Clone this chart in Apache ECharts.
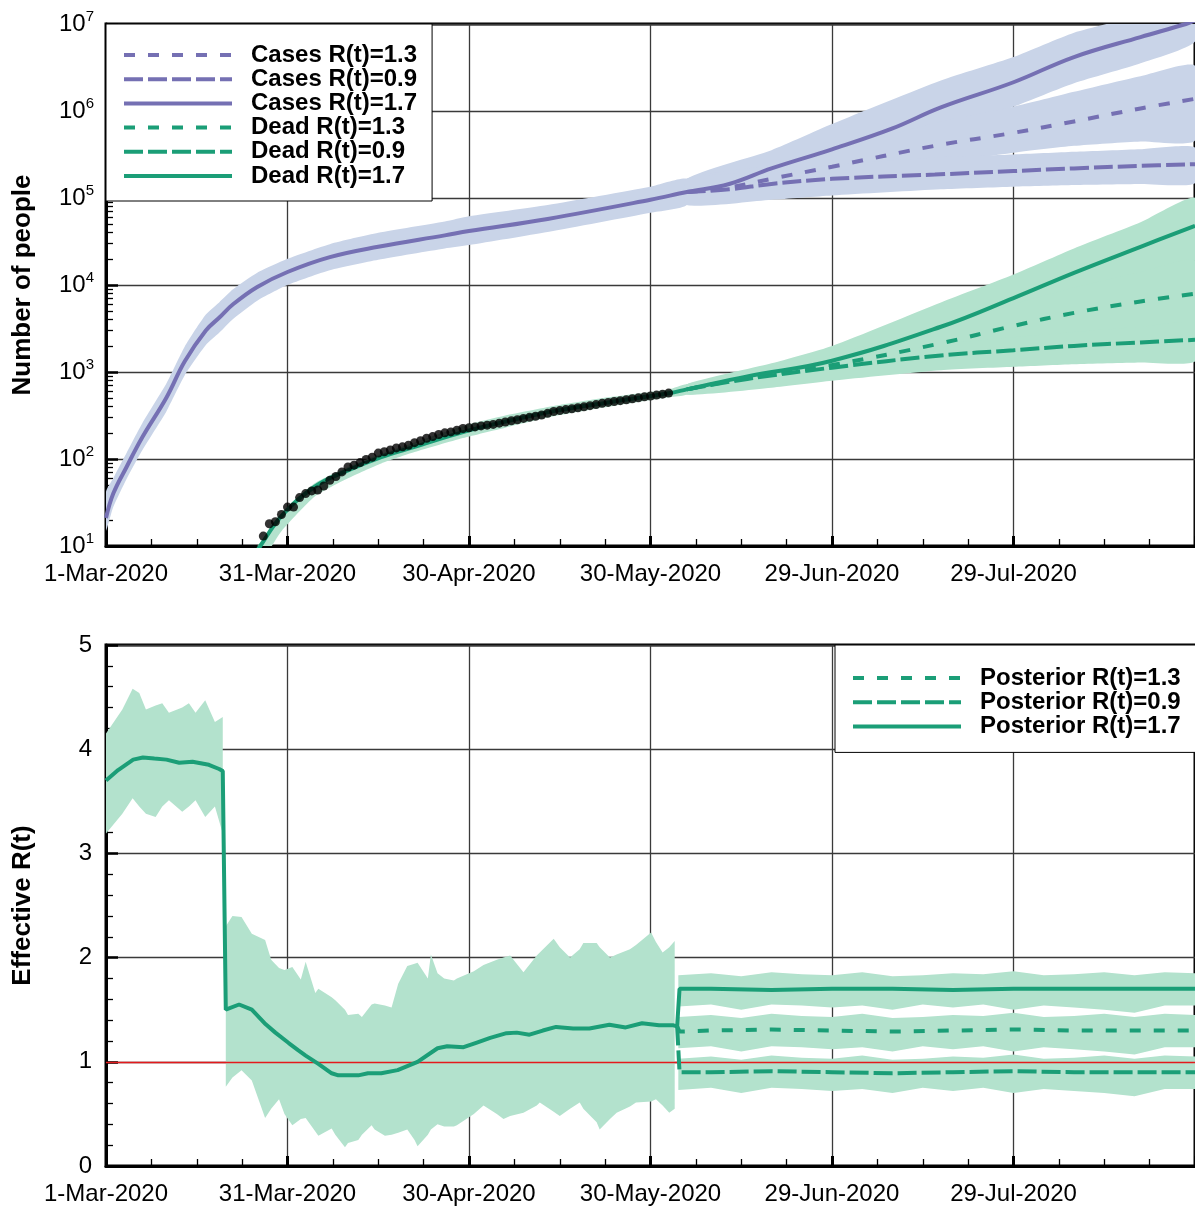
<!DOCTYPE html>
<html><head><meta charset="utf-8">
<script src="https://cdn.jsdelivr.net/npm/echarts@6/dist/echarts.min.js"></script>
<style>html,body{margin:0;padding:0;background:#fff}#c{width:1195px;height:1206px}</style>
</head><body><div id="c"></div>
<script>
const FONT = 'Liberation Sans';
const dateTickLabels = ['1-Mar-2020','31-Mar-2020','30-Apr-2020','30-May-2020','29-Jun-2020','29-Jul-2020'];
const logTickExponents = ['1','2','3','4','5','6','7'];
const rTickLabels = ['0','1','2','3','4','5'];

// ---- top panel: cases ----
const caseDays = [0,1.2,3.4,6,10,13,16.5,18.7,21,25,30,37,45,56,60,73,90,96,103,110,120,130,138,150,160,171,178.5,180];
const caseMed17 = [21,40,81,178,510,1320,3000,4200,6000,9500,14100,20900,27500,37200,41700,57500,95500,117000,145000,219000,363000,631000,1100000,2140000,4170000,7080000,10000000,11000000];
const caseFcDays = [96,103,110,120,137,150,160,171,180];
const caseMed13 = [117000,132000,166000,229000,398000,562000,759000,1070000,1380000];
const caseMed09 = [117000,126000,145000,166000,186000,204000,219000,234000,245000];
const caseBandDays = [0,1.2,3.4,6,10,13,16.5,18.7,21,25,30,37,45,56,60,73,90,96];
const caseBandLo = [15,28,59,126,355,912,2040,2820,4070,6610,10000,14800,19500,26300,28800,40700,67600,83000];
const caseBandHi = [42,60,117,257,741,1950,4570,6310,8910,13800,20000,29500,39800,53700,61700,83200,135000,166000];
const fanDays = [96,110,120,138,150,160,171,180];
const caseFan17Lo = [83000,141000,214000,562000,1120000,2090000,3550000,6310000];
const caseFan17Hi = [166000,355000,708000,2240000,4170000,7940000,12600000,20000000];
const caseFan13Lo = [83000,117000,151000,251000,331000,398000,447000,457000];
const caseFan13Hi = [166000,240000,355000,759000,1120000,1660000,2510000,3310000];
const caseFan09Lo = [83000,95500,107000,126000,135000,141000,145000,148000];
const caseFan09Hi = [166000,200000,240000,295000,316000,339000,363000,380000];

// ---- top panel: dead ----
const deadDays = [24,25.5,29,34.5,40,45.5,51,59,66,74,83,93,96,106,120,138,150,160,171,180];
const deadMed17 = [7,10,22,48,74,105,138,204,269,355,447,569,631,891,1349,3311,7079,13800,27500,47900];
const deadFcDays = [96,106,120,138,150,160,171,180];
const deadMed13 = [631,851,1202,2138,3388,4786,6457,7943];
const deadMed09 = [631,832,1122,1549,1778,1995,2188,2344];
const deadBandDays = [24,25.5,27.4,29,34.5,40,45.5,51,59,66,74,83,93,96];
const deadBandLo = [4,6.3,10,14.8,37,60,89,120,174,229,309,398,513,550];
const deadBandHi = [7.9,11,16.6,24,52.5,81,115,155,240,316,407,513,631,724];
const deadFan17Lo = [550,794,1000,1995,3548,6310,11200,19100];
const deadFan17Hi = [724,1259,1995,6310,13200,26300,52500,100000];
const deadFan13Lo = [550,708,891,1413,1905,2399,3020,3467];
const deadFan13Hi = [724,1072,1585,3311,6026,9333,14100,19100];
const deadFan09Lo = [550,661,794,1047,1148,1230,1288,1318];
const deadFan09Hi = [724,1000,1349,2089,2512,2884,3311,3631];

// observed deaths (black dots)
const obsDays = [26,27,28,29,30,31,32,33,34,35,36,37,38,39,40,41,42,43,44,45,46,47,48,49,50,51,52,53,54,55,56,57,58,59,60,61,62,63,64,65,66,67,68,69,70,71,72,73,74,75,76,77,78,79,80,81,82,83,84,85,86,87,88,89,90,91,92,93];
const obsDead = [13,18,19,23,28,28,36,40,43,44,49,57,63,71,81,85,91,99,105,117,121,127,134,138,144,154,162,173,181,191,200,205,214,224,229,234,240,245,250,258,266,275,283,293,301,310,320,335,352,360,370,378,388,398,410,422,436,447,458,468,480,492,505,518,530,543,556,572];

// ---- bottom panel: effective R(t) ----
const rDays = [0,2,4.5,6.1,8,10,12.1,14.3,17,18.7,19.3,19.8,22,24.1,26.4,28,30.2,31.8,33,35.1,37.3,38.4,41.7,43.3,45.5,48.2,51.5,54.8,56.4,59.1,61.3,63.5,66.2,67.9,70,72.2,74.4,77.2,79.9,83.2,85.9,88.6,91.4,93.8,94.4];
const rMed = [3.70,3.80,3.90,3.92,3.91,3.90,3.87,3.88,3.85,3.81,3.79,1.50,1.55,1.50,1.36,1.28,1.18,1.11,1.06,0.98,0.89,0.87,0.87,0.89,0.89,0.92,1.00,1.13,1.15,1.14,1.185,1.23,1.275,1.28,1.26,1.30,1.335,1.32,1.32,1.355,1.33,1.37,1.35,1.35,1.34];
const rFcDays = [94.4,94.8,100,110,120,130,140,150,160,170,180];
const rFc17 = [1.34,1.70,1.70,1.69,1.70,1.70,1.69,1.70,1.70,1.70,1.70];
const rFc13 = [1.34,1.29,1.30,1.31,1.30,1.29,1.30,1.31,1.30,1.30,1.30];
const rFc09 = [1.34,0.90,0.90,0.91,0.90,0.89,0.90,0.91,0.90,0.90,0.90];
const rBand1Days = [0,2.7,4.4,5.5,6.6,8.2,9.3,10.4,12.6,13.7,14.8,16.4,18.0,19.3];
const rBand1Lo = [3.19,3.38,3.53,3.45,3.38,3.35,3.45,3.51,3.40,3.45,3.51,3.35,3.45,3.19];
const rBand1Hi = [4.15,4.38,4.58,4.54,4.38,4.42,4.44,4.35,4.40,4.44,4.35,4.47,4.26,4.31];
const rBand2Days = [19.8,20.9,22.4,24.1,26.3,27.3,28.6,29.5,30.8,32.2,33.0,34.6,35.1,37.3,37.9,39.5,40.0,41.7,42.3,43.9,44.4,46.1,47.2,48.3,49.8,51.0,51.5,53.2,53.7,54.8,55.9,57.5,58.0,60.8,62.4,64.6,65.7,66.8,69.0,71.2,71.7,74.0,75.0,76.7,78.3,78.9,81.1,81.6,83.3,84.4,86.6,87.6,90.1,90.9,92.0,93.1,94.0];
const rBand2Lo = [0.76,0.85,0.92,0.82,0.46,0.55,0.64,0.50,0.39,0.45,0.46,0.33,0.29,0.36,0.30,0.18,0.22,0.25,0.30,0.39,0.35,0.29,0.30,0.32,0.35,0.25,0.19,0.30,0.35,0.40,0.38,0.38,0.39,0.50,0.58,0.50,0.45,0.48,0.51,0.58,0.61,0.52,0.48,0.55,0.61,0.55,0.42,0.35,0.45,0.51,0.57,0.61,0.62,0.64,0.58,0.51,0.55];
const rBand2Hi = [2.30,2.40,2.39,2.23,2.17,1.98,1.90,1.88,1.91,1.79,1.96,1.66,1.70,1.62,1.59,1.50,1.45,1.46,1.43,1.55,1.56,1.54,1.52,1.75,1.92,1.94,1.95,1.80,2.03,1.85,1.80,1.78,1.80,1.87,1.93,1.98,2.00,2.02,1.86,2.02,2.05,2.18,2.10,2.00,2.08,2.14,2.14,2.10,2.00,2.03,2.08,2.12,2.24,2.15,2.05,2.10,2.16];
const rFcBandDays = [94.6,100,105,110,115,120,125,130,135,140,145,150,155,160,165,170,175,180];
const rB17Hi = [1.83,1.85,1.82,1.86,1.84,1.83,1.86,1.82,1.83,1.85,1.84,1.87,1.83,1.84,1.86,1.83,1.86,1.85];
const rB17Lo = [1.53,1.55,1.50,1.55,1.54,1.52,1.54,1.50,1.55,1.52,1.55,1.50,1.54,1.52,1.50,1.47,1.54,1.54];
const rB13Hi = [1.43,1.45,1.42,1.46,1.44,1.43,1.46,1.42,1.43,1.45,1.44,1.47,1.43,1.44,1.46,1.43,1.46,1.45];
const rB13Lo = [1.13,1.15,1.10,1.15,1.14,1.12,1.14,1.10,1.15,1.12,1.15,1.10,1.14,1.12,1.10,1.07,1.14,1.14];
const rB09Hi = [1.03,1.05,1.02,1.06,1.04,1.03,1.06,1.02,1.03,1.05,1.04,1.07,1.03,1.04,1.06,1.03,1.06,1.05];
const rB09Lo = [0.73,0.75,0.70,0.75,0.74,0.72,0.74,0.70,0.75,0.72,0.75,0.70,0.74,0.72,0.70,0.67,0.74,0.74];
const rReference = [1];

const PURPLE = '#7570b3', GREEN = '#1b9e77', BLUEBAND = '#c9d4e8', GREENBAND = '#b3e2cd';
const DASH13 = [11, 13], DASH09 = [19, 5];

function pairs(d, v) { return d.map((x, i) => [x, v[i]]); }
function band(days, lo, hi, color, xi, yi, smooth) {
  return {
    type: 'custom', xAxisIndex: xi, yAxisIndex: yi, z: 2, silent: true, clip: true,
    data: [[days[0], lo[0]]],
    renderItem: function (params, api) {
      const pts = [];
      for (let i = 0; i < days.length; i++) pts.push(api.coord([days[i], hi[i]]));
      for (let i = days.length - 1; i >= 0; i--) pts.push(api.coord([days[i], lo[i]]));
      return { type: 'polygon', shape: { points: pts, smooth: smooth || 0 }, style: { fill: color } };
    }
  };
}
function line(name, d, v, color, dash, xi, yi, smooth, z) {
  return {
    name: name, type: 'line', xAxisIndex: xi, yAxisIndex: yi, data: pairs(d, v),
    symbol: 'none', showSymbol: false, smooth: smooth, clip: true, z: z || 3,
    lineStyle: { color: color, width: 4, type: dash }, itemStyle: { color: color },
    emphasis: { disabled: true }
  };
}
function xAxisCfg(gi) {
  return {
    type: 'value', gridIndex: gi, min: 0, max: 180, interval: 30,
    axisLine: { show: true, onZero: false, lineStyle: { color: '#000', width: 3 } },
    axisTick: { show: true, inside: true, length: 10, lineStyle: { color: '#000', width: 3 } },
    minorTick: { show: true, splitNumber: 4, length: 7, lineStyle: { color: '#000', width: 1.3 } },
    splitLine: { show: true, lineStyle: { color: '#3a3a3a', width: 1.3 } },
    axisLabel: {
      margin: 16, fontSize: 24, fontFamily: FONT, color: '#000', showMaxLabel: false,
      formatter: function (v) {
        const i = Math.round(v / 30);
        return (Math.abs(v - i * 30) < 0.01 && i < dateTickLabels.length) ? dateTickLabels[i] : '';
      }
    }
  };
}
const legendBase = {
  orient: 'vertical', itemWidth: 108, itemHeight: 14, itemGap: 0.2,
  backgroundColor: '#fff', borderColor: '#000', borderWidth: 1, borderRadius: 0,
  selectedMode: false,
  itemStyle: { opacity: 0 },
  lineStyle: { width: 4 },
  textStyle: { fontFamily: FONT, fontSize: 24, fontWeight: 'bold', color: '#000', lineHeight: 24, padding: [0, 0, 0, 14] }
};

const option = {
  backgroundColor: '#fff',
  animation: false,
  grid: [
    { left: 106, right: -9, top: 24, height: 522, show: true, borderColor: '#000', borderWidth: 3, backgroundColor: 'transparent' },
    { left: 106, right: -9, top: 645, height: 521, show: true, borderColor: '#000', borderWidth: 3, backgroundColor: 'transparent' }
  ],
  legend: [
    Object.assign({}, legendBase, {
      left: 106, top: 24, padding: [19, 15, 13, 16],
      data: ['Cases R(t)=1.3', 'Cases R(t)=0.9', 'Cases R(t)=1.7', 'Dead R(t)=1.3', 'Dead R(t)=0.9', 'Dead R(t)=1.7']
    }),
    Object.assign({}, legendBase, {
      left: 835, top: 645, padding: [21, 30, 14, 16],
      data: ['Posterior R(t)=1.3', 'Posterior R(t)=0.9', 'Posterior R(t)=1.7']
    })
  ],
  xAxis: [xAxisCfg(0), xAxisCfg(1)],
  yAxis: [
    {
      type: 'log', logBase: 10, gridIndex: 0, min: 10, max: 10000000,
      axisLine: { show: true, lineStyle: { color: '#000', width: 3 } },
      axisTick: { show: true, inside: true, length: 12, lineStyle: { color: '#000', width: 2.5 } },
      minorTick: { show: true, splitNumber: 9, length: 7, lineStyle: { color: '#000', width: 1.3 } },
      splitLine: { show: true, lineStyle: { color: '#3a3a3a', width: 1.3 } },
      axisLabel: {
        margin: 12, color: '#000',
        formatter: function (v) {
          const e = Math.round(Math.log(v) / Math.LN10);
          return '{b|10}{s|' + logTickExponents[e - 1] + '}';
        },
        rich: {
          b: { fontSize: 24, fontFamily: FONT, color: '#000', lineHeight: 30 },
          s: { fontSize: 15, fontFamily: FONT, color: '#000', lineHeight: 14, verticalAlign: 'top' }
        }
      },
      name: 'Number of people', nameLocation: 'middle', nameGap: 70,
      nameTextStyle: { fontSize: 26, fontWeight: 'bold', fontFamily: FONT, color: '#000' }
    },
    {
      type: 'value', gridIndex: 1, min: 0, max: 5, interval: 1,
      axisLine: { show: true, onZero: false, lineStyle: { color: '#000', width: 3 } },
      axisTick: { show: true, inside: true, length: 12, lineStyle: { color: '#000', width: 2.5 } },
      minorTick: { show: true, splitNumber: 5, length: 7, lineStyle: { color: '#000', width: 1.3 } },
      splitLine: { show: true, lineStyle: { color: '#3a3a3a', width: 1.3 } },
      axisLabel: {
        margin: 14, fontSize: 24, fontFamily: FONT, color: '#000',
        formatter: function (v) { return rTickLabels[Math.round(v)]; }
      },
      name: 'Effective R(t)', nameLocation: 'middle', nameGap: 70,
      nameTextStyle: { fontSize: 26, fontWeight: 'bold', fontFamily: FONT, color: '#000' }
    }
  ],
  series: [
    band(caseBandDays, caseBandLo, caseBandHi, BLUEBAND, 0, 0, 0.2),
    band(fanDays, caseFan17Lo, caseFan17Hi, BLUEBAND, 0, 0, 0.2),
    band(fanDays, caseFan13Lo, caseFan13Hi, BLUEBAND, 0, 0, 0.2),
    band(fanDays, caseFan09Lo, caseFan09Hi, BLUEBAND, 0, 0, 0.2),
    band(deadBandDays, deadBandLo, deadBandHi, GREENBAND, 0, 0, 0.2),
    band(fanDays, deadFan17Lo, deadFan17Hi, GREENBAND, 0, 0, 0.2),
    band(fanDays, deadFan13Lo, deadFan13Hi, GREENBAND, 0, 0, 0.2),
    band(fanDays, deadFan09Lo, deadFan09Hi, GREENBAND, 0, 0, 0.2),
    line('Cases R(t)=1.3', caseFcDays, caseMed13, PURPLE, DASH13, 0, 0, 0.4),
    line('Cases R(t)=0.9', caseFcDays, caseMed09, PURPLE, DASH09, 0, 0, 0.4),
    line('Cases R(t)=1.7', caseDays, caseMed17, PURPLE, 'solid', 0, 0, 0.4),
    line('Dead R(t)=1.3', deadFcDays, deadMed13, GREEN, DASH13, 0, 0, 0.4),
    line('Dead R(t)=0.9', deadFcDays, deadMed09, GREEN, DASH09, 0, 0, 0.4),
    line('Dead R(t)=1.7', deadDays, deadMed17, GREEN, 'solid', 0, 0, 0.4),
    {
      type: 'scatter', xAxisIndex: 0, yAxisIndex: 0, data: pairs(obsDays, obsDead), z: 4,
      symbol: 'circle', symbolSize: 9, itemStyle: { color: '#000' }, silent: true
    },
    band(rBand1Days, rBand1Lo, rBand1Hi, GREENBAND, 1, 1, 0),
    band(rBand2Days, rBand2Lo, rBand2Hi, GREENBAND, 1, 1, 0),
    band(rFcBandDays, rB17Lo, rB17Hi, GREENBAND, 1, 1, 0),
    band(rFcBandDays, rB13Lo, rB13Hi, GREENBAND, 1, 1, 0),
    band(rFcBandDays, rB09Lo, rB09Hi, GREENBAND, 1, 1, 0),
    {
      type: 'line', xAxisIndex: 1, yAxisIndex: 1, data: [], z: 2, silent: true,
      markLine: {
        silent: true, symbol: 'none', label: { show: false },
        lineStyle: { color: '#e41a1c', width: 1.3, type: 'solid' },
        data: rReference.map(v => ({ yAxis: v }))
      }
    },
    line(null, rDays, rMed, GREEN, 'solid', 1, 1, false, 10),
    line('Posterior R(t)=1.3', rFcDays, rFc13, GREEN, DASH13, 1, 1, false, 10),
    line('Posterior R(t)=0.9', rFcDays, rFc09, GREEN, DASH09, 1, 1, false, 10),
    line('Posterior R(t)=1.7', rFcDays, rFc17, GREEN, 'solid', 1, 1, false, 10)
  ]
};
const chart = echarts.init(document.getElementById('c'), null, { renderer: 'canvas' });
chart.setOption(option);
</script>
</body></html>
